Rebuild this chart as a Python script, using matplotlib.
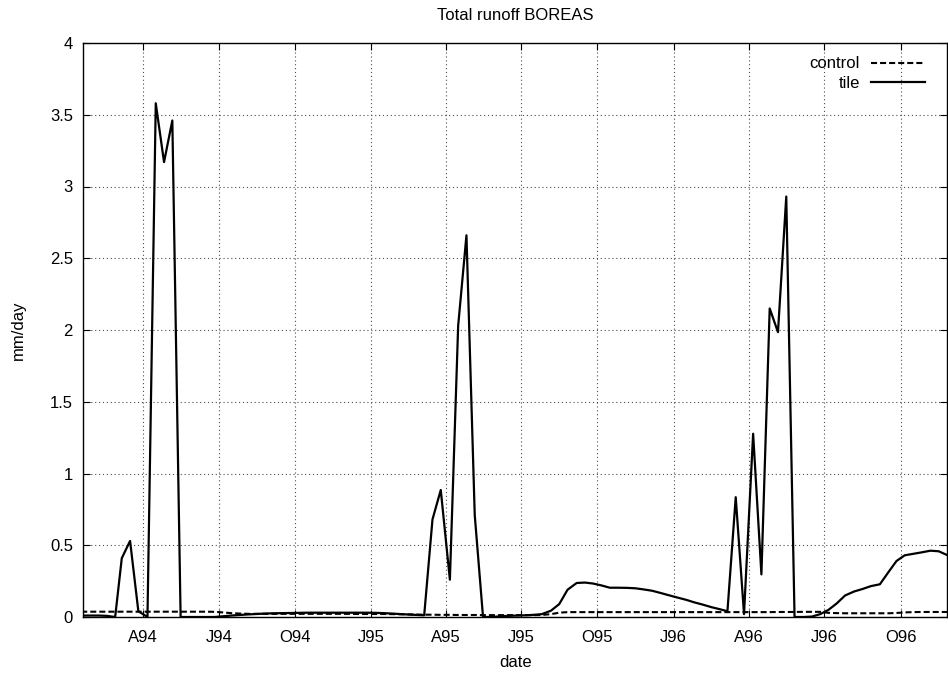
import numpy as np
import matplotlib
matplotlib.use("Agg")
import matplotlib.pyplot as plt
from matplotlib.lines import Line2D

plt.rcParams['font.family'] = ['Liberation Sans', 'DejaVu Sans']

# Dekadal samples (6th, 16th, 26th of each month), 16 Jan 1994 .. 26 Nov 1996
years = [1994, 1995, 1996]
dekad_days = [6, 16, 26]
first_date = np.datetime64('1994-01-16')
last_date = np.datetime64('1996-11-26')

# Total runoff (mm/day), tile scheme
tile_1994 = [0.010, 0.010, 0.010, 0.008, 0.000,
             0.410, 0.530, 0.040,
             0.000, 3.580, 3.170,
             3.460, 0.000, 0.000,
             0.000, 0.000, 0.000,
             0.005, 0.010, 0.014,
             0.018, 0.021, 0.024,
             0.026, 0.027, 0.028,
             0.029, 0.030, 0.030,
             0.030, 0.030, 0.030,
             0.030, 0.030, 0.030]
tile_1995 = [0.029, 0.027, 0.024,
             0.020, 0.017, 0.014,
             0.012, 0.680, 0.885,
             0.260, 2.030, 2.660,
             0.710, 0.000, 0.000,
             0.005, 0.008, 0.010,
             0.012, 0.015, 0.020,
             0.044, 0.090, 0.190,
             0.237, 0.240, 0.233,
             0.220, 0.204, 0.204,
             0.203, 0.200, 0.192,
             0.183, 0.168, 0.152]
tile_1996 = [0.135, 0.120, 0.102,
             0.085, 0.068, 0.054,
             0.040, 0.835, 0.020,
             1.277, 0.297, 2.150,
             1.985, 2.930, 0.000,
             0.000, 0.003, 0.020,
             0.050, 0.095, 0.150,
             0.178, 0.195, 0.215,
             0.228, 0.310, 0.390,
             0.430, 0.440, 0.450,
             0.462, 0.458, 0.432]

# Total runoff (mm/day), control scheme
control_1994 = [0.037, 0.037, 0.037, 0.037, 0.037,
                0.037, 0.037, 0.037,
                0.037, 0.037, 0.037,
                0.037, 0.037, 0.037,
                0.037, 0.037, 0.036,
                0.032, 0.027, 0.024,
                0.022, 0.022, 0.022,
                0.022, 0.022, 0.022,
                0.022, 0.022, 0.022,
                0.022, 0.022, 0.022,
                0.022, 0.021, 0.021]
control_1995 = [0.021, 0.021, 0.020,
                0.019, 0.018, 0.017,
                0.016, 0.016, 0.015,
                0.015, 0.014, 0.014,
                0.014, 0.013, 0.013,
                0.013, 0.013, 0.013,
                0.013, 0.013, 0.014,
                0.020, 0.030, 0.034,
                0.034, 0.034, 0.034,
                0.034, 0.034, 0.034,
                0.034, 0.034, 0.034,
                0.034, 0.034, 0.034]
control_1996 = [0.034, 0.034, 0.034,
                0.034, 0.034, 0.034,
                0.034, 0.034, 0.034,
                0.034, 0.034, 0.034,
                0.035, 0.035, 0.035,
                0.036, 0.036, 0.036,
                0.029, 0.027, 0.026,
                0.026, 0.026, 0.026,
                0.026, 0.026, 0.028,
                0.032, 0.034, 0.035,
                0.035, 0.035, 0.035]

tick_dates = ['1994-04-01', '1994-07-01', '1994-10-01', '1995-01-01',
              '1995-04-01', '1995-07-01', '1995-10-01', '1996-01-01',
              '1996-04-01', '1996-07-01', '1996-10-01']
tick_labels = ['A94', 'J94', 'O94', 'J95', 'A95', 'J95', 'O95', 'J96',
               'A96', 'J96', 'O96']
y_ticks = [0, 0.5, 1, 1.5, 2, 2.5, 3, 3.5, 4]
y_tick_labels = ['0', '0.5', '1', '1.5', '2', '2.5', '3', '3.5', '4']

dates = np.array([np.datetime64(f'{y}-{m:02d}-{d:02d}')
                  for y in years for m in range(1, 13) for d in dekad_days])
dates = dates[(dates >= first_date) & (dates <= last_date)]
tile = np.array(tile_1994 + tile_1995 + tile_1996)
control = np.array(control_1994 + control_1995 + control_1996)

FS = 12
W, H = 948, 678
fig = plt.figure(figsize=(W / 100, H / 100), dpi=100)
left, right, top, bottom = 83.4, 947.0, 43.0, 617.0
ax = fig.add_axes([left / W, 1 - bottom / H, (right - left) / W, (bottom - top) / H])

dash = (2.9, 1.45)
ax.plot(dates, control, color='black', lw=1.5, dashes=dash, zorder=3)
ax.plot(dates, tile, color='black', lw=1.6, zorder=4)

ax.set_xlim(np.datetime64('1994-01-18T16:00'), last_date)
ax.set_ylim(0, 4)
ax.set_xticks([np.datetime64(t) for t in tick_dates])
ax.set_xticklabels(tick_labels)
ax.set_yticks(y_ticks)
ax.set_yticklabels(y_tick_labels)

ax.tick_params(direction='in', length=4.7, width=0.8, top=True, right=True,
               labelsize=FS, colors='black')
ax.tick_params(axis='x', pad=9)
ax.tick_params(axis='y', pad=7.5)
ax.grid(True, color='0.3', lw=0.8, linestyle=(0, (1, 2.5)))
ax.set_axisbelow(True)
for s in ax.spines.values():
    s.set_linewidth(1.0)
    s.set_color('black')

fig.text(515 / W, 1 - 15 / H, 'Total runoff BOREAS', ha='center', va='center', fontsize=FS)
ax.set_xlabel('date', fontsize=FS)
ax.xaxis.set_label_coords(0.5, (bottom - 655) / (bottom - top))
ax.set_ylabel('mm/day', fontsize=FS)
ax.yaxis.set_label_coords((26 - left) / (right - left), 0.5)

handles = [Line2D([], [], color='black', lw=1.5, dashes=dash),
           Line2D([], [], color='black', lw=1.6)]
ax.legend(handles, ['control', 'tile'], loc='upper right', frameon=False,
          markerfirst=False, fontsize=FS, handlelength=3.25,
          handletextpad=0.66, labelspacing=0.27, borderpad=0.0,
          borderaxespad=0.0,
          bbox_to_anchor=(1 - 22 / (right - left), 1 - 13.5 / (bottom - top)))

fig.savefig('out.png', dpi=100)
